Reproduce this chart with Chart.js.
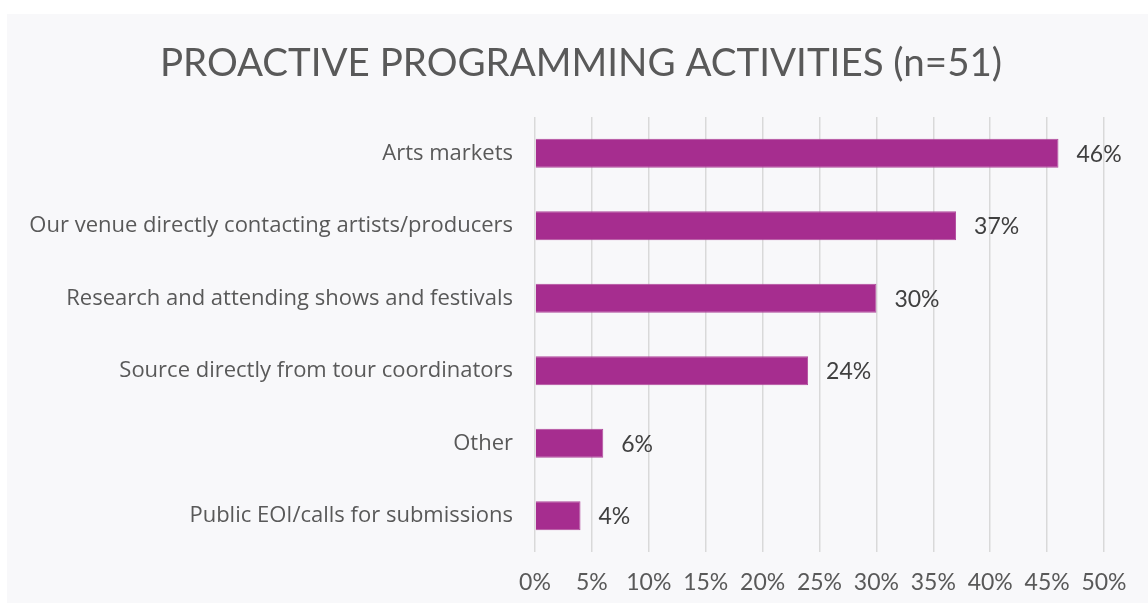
<!DOCTYPE html>
<html>
<head>
<meta charset="utf-8">
<script src="https://cdn.jsdelivr.net/npm/chart.js@4"></script>
<style>
    html, body { margin: 0; padding: 0; background: #ffffff; }
    #panel {
        position: absolute;
        left: 7px;
        top: 14px;
        width: 1141px;
        height: 589px;
        background: #f8f8fa;
    }
</style>
</head>
<body>
<div id="panel"><canvas id="activities"></canvas></div>
<script>
const categories = [
    "Arts markets",
    "Our venue directly contacting artists/producers",
    "Research and attending shows and festivals",
    "Source directly from tour coordinators",
    "Other",
    "Public EOI/calls for submissions"
]
const shares = [46, 37, 30, 24, 6, 4]
const tickValues = [0, 5, 10, 15, 20, 25, 30, 35, 40, 45, 50]
const chartTitle = "PROACTIVE PROGRAMMING ACTIVITIES (n=51)"

const fontFamily = "Lato, 'Open Sans', sans-serif"
const labelFamily = "'Open Sans', Lato, sans-serif"

// title sits a little right of the canvas centre, so it is drawn here
const titleText = {
    id: "titleText",
    afterDraw: (chart) => {
        const ctx = chart.ctx
        ctx.save()
        ctx.font = "38.5px " + fontFamily
        ctx.fillStyle = "#595959"
        ctx.textAlign = "center"
        ctx.textBaseline = "middle"
        ctx.fillText(chartTitle, 574, 50)
        ctx.restore()
    }
}

// writes "NN%" just past the end of each bar
const valueLabels = {
    id: "valueLabels",
    afterDatasetsDraw: (chart) => {
        const ctx = chart.ctx
        const meta = chart.getDatasetMeta(0)
        ctx.save()
        ctx.font = "23px " + fontFamily
        ctx.fillStyle = "#404040"
        ctx.textAlign = "left"
        ctx.textBaseline = "middle"
        meta.data.forEach((bar, i) => {
            ctx.fillText(shares[i] + "%", bar.x + 18, bar.y + 1)
        })
        ctx.restore()
    }
}

const createChart = (chartId) => {
    const context = document.getElementById(chartId).getContext("2d")

    return new Chart(context, {
        type: "bar",
        data: {
            labels: categories,
            datasets: [{
                data: shares,
                backgroundColor: "#a62d8f",
                borderColor: "#b04a9c",
                borderWidth: 1,
                categoryPercentage: 1,
                barPercentage: 0.4
            }]
        },
        options: {
            indexAxis: "y",
            responsive: true,
            maintainAspectRatio: false,
            animation: false,
            layout: {
                padding: { left: 0, right: 44, top: 103, bottom: 0 }
            },
            scales: {
                x: {
                    min: 0,
                    max: 50,
                    afterBuildTicks: (scale) => {
                        scale.ticks = tickValues.map(v => ({ value: v }))
                    },
                    afterFit: (scale) => { scale.height = 51 },
                    border: { display: false },
                    grid: {
                        color: "#d9d9d9",
                        lineWidth: 1.5,
                        drawTicks: false
                    },
                    ticks: {
                        padding: 17,
                        color: "#595959",
                        font: { family: fontFamily, size: 23 },
                        callback: (value) => value + "%"
                    }
                },
                y: {
                    afterFit: (scale) => { scale.width = 528 },
                    border: { display: false },
                    grid: { display: false, drawTicks: false },
                    ticks: {
                        padding: 22,
                        color: "#595959",
                        font: { family: labelFamily, size: 22 }
                    }
                }
            },
            plugins: {
                legend: { display: false },
                tooltip: { enabled: false },
                title: { display: false }
            }
        },
        plugins: [titleText, valueLabels]
    })
}

createChart("activities")
</script>
</body>
</html>
